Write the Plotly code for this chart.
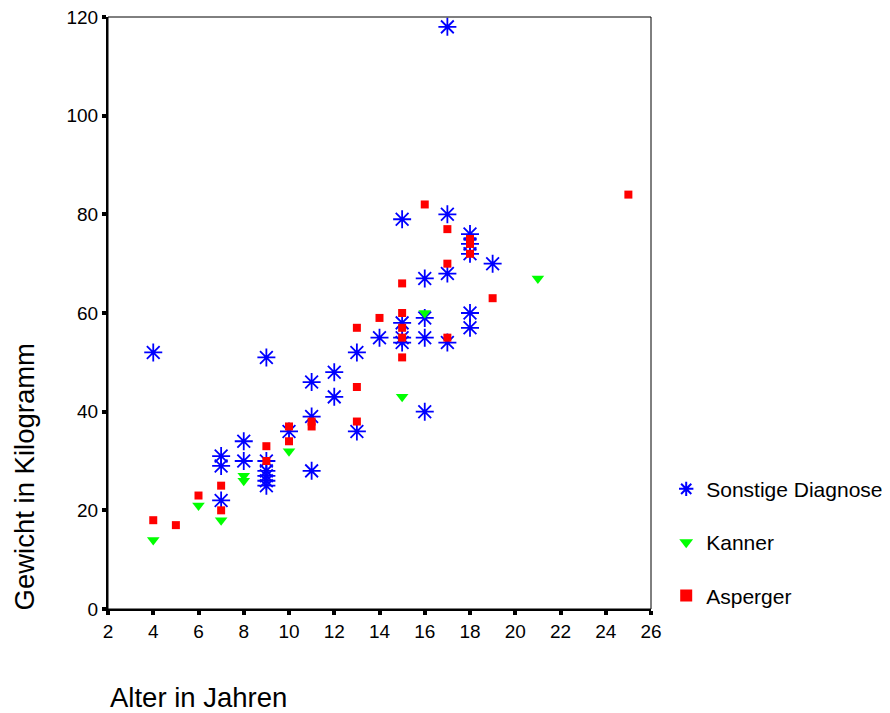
import plotly.graph_objects as go

# Sonstige Diagnose
sonst_x = [4, 7, 7, 7, 8, 8, 9, 9, 9, 9, 9, 9, 10, 11, 11, 11, 12, 12, 13, 13, 14,
           15, 15, 15, 15, 16, 16, 16, 16, 17, 17, 17, 17, 18, 18, 18, 18, 18, 19]
sonst_y = [52, 31, 29, 22, 34, 30, 51, 30, 28, 27, 26, 25, 36, 46, 39, 28, 48, 43, 52, 36, 55,
           79, 58, 55, 54, 67, 59, 55, 40, 118, 80, 68, 54, 76, 74, 72, 60, 57, 70]

# Kanner
kanner_x = [4, 6, 7, 8, 8, 10, 15, 16, 21]
kanner_y = [14, 21, 18, 27, 26, 32, 43, 60, 67]

# Asperger
asp_x = [4, 5, 6, 7, 7, 9, 9, 10, 10, 11, 11, 13, 13, 13, 14, 15, 15, 15, 15, 15,
         16, 17, 17, 17, 18, 18, 18, 19, 25]
asp_y = [18, 17, 23, 25, 20, 33, 30, 37, 34, 38, 37, 57, 45, 38, 59, 66, 60, 57, 55, 51,
         82, 77, 70, 55, 75, 74, 72, 63, 84]

x_ticks = list(range(2, 27, 2))
y_ticks = list(range(0, 121, 20))

FONT = "Liberation Sans, Arial, sans-serif"

fig = go.Figure()
fig.add_trace(go.Scatter(
    x=sonst_x, y=sonst_y, mode="markers", name="Sonstige Diagnose",
    legendgroup="a",
    marker=dict(symbol="asterisk-open", size=15, color="#0000FF",
                line=dict(color="#0000FF", width=1.8))))
fig.add_trace(go.Scatter(
    x=kanner_x, y=kanner_y, mode="markers", name="Kanner",
    legendgroup="b",
    marker=dict(symbol="triangle-down", size=11, color="#00FF00",
                line=dict(width=0))))
fig.add_trace(go.Scatter(
    x=asp_x, y=asp_y, mode="markers", name="Asperger",
    legendgroup="c",
    marker=dict(symbol="square", size=8, color="#FF0000",
                line=dict(width=0))))

fig.update_layout(
    width=882, height=705,
    margin=dict(l=100, r=239, t=9, b=104, autoexpand=False),
    paper_bgcolor="white", plot_bgcolor="white",
    font=dict(family=FONT, color="black"),
    showlegend=True,
    legend=dict(x=1.028, y=0.237, xanchor="left", yanchor="top",
                font=dict(size=21, family=FONT), tracegroupgap=23,
                itemsizing="constant", bgcolor="rgba(0,0,0,0)"),
    xaxis=dict(range=[2, 26], tickvals=x_ticks, ticktext=[str(v) for v in x_ticks],
               showgrid=False, zeroline=False, showline=True, linecolor="black",
               linewidth=2, ticks="outside", ticklen=4, tickwidth=4, tickcolor="black",
               ticklabeloverflow="allow", automargin=False,
               tickfont=dict(size=19, family=FONT)),
    yaxis=dict(range=[0, 120], tickvals=y_ticks, ticktext=[str(v) for v in y_ticks],
               showgrid=False, zeroline=False, showline=True, linecolor="black",
               linewidth=2, ticks="outside", ticklen=4, tickwidth=4, tickcolor="black",
               ticklabeloverflow="allow", automargin=False,
               tickfont=dict(size=19, family=FONT)),
    shapes=[dict(type="rect", xref="paper", yref="paper", x0=0, y0=0, x1=1, y1=1,
                 line=dict(color="black", width=1), layer="above")],
    annotations=[
        dict(text="Alter in Jahren", xref="paper", yref="paper", x=0, y=-0.15,
             xanchor="left", yanchor="middle", showarrow=False,
             font=dict(size=27.5, family=FONT)),
        dict(text="Gewicht in Kilogramm", xref="paper", yref="paper", x=-0.152, y=0.223,
             xanchor="center", yanchor="middle", textangle=-90, showarrow=False,
             font=dict(size=27.5, family=FONT)),
    ],
)

fig.write_html("out.html")
